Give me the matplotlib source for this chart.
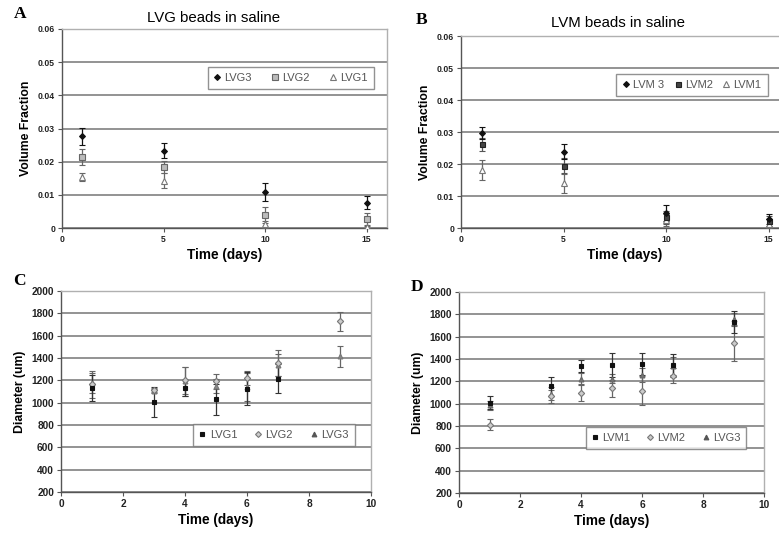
import numpy as np
import matplotlib.pyplot as plt
from matplotlib.lines import Line2D

plt.rcParams['font.family'] = ['Liberation Sans', 'DejaVu Sans']

W, H = 779, 535

# Panel A - LVG beads in saline (volume fraction)
days_ab = [1, 5, 10, 15]
lvg3_vf = [0.0277, 0.0233, 0.0109, 0.0076]
lvg3_vf_err = [0.0026, 0.0022, 0.0027, 0.0020]
lvg2_vf = [0.0214, 0.0184, 0.0039, 0.0027]
lvg2_vf_err = [0.0023, 0.0018, 0.0023, 0.0019]
lvg1_vf = [0.0154, 0.0143, 0.0011, 0.0002]
lvg1_vf_err = [0.0013, 0.0022, 0.0010, 0.0003]

# Panel B - LVM beads in saline (volume fraction)
lvm3_vf = [0.0298, 0.0239, 0.0047, 0.0028]
lvm3_vf_err = [0.0019, 0.0022, 0.0024, 0.0017]
lvm2_vf = [0.0261, 0.0195, 0.0033, 0.0021]
lvm2_vf_err = [0.0020, 0.0023, 0.0020, 0.0015]
lvm1_vf = [0.0182, 0.0140, 0.0025, 0.0014]
lvm1_vf_err = [0.0032, 0.0030, 0.0020, 0.0013]

# Panel C - LVG diameter
days_cd = [1, 3, 4, 5, 6, 7, 9]
lvg1_d = [1130, 1003, 1132, 1030, 1125, 1215, np.nan]
lvg1_d_err = [115, 135, 70, 140, 150, 130, np.nan]
lvg2_d = [1165, 1117, 1200, 1190, 1220, 1358, 1728]
lvg2_d_err = [120, 18, 120, 65, 60, 115, 85]
lvg3_d = [1175, 1105, 1190, 1150, 1140, 1340, 1415]
lvg3_d_err = [90, 20, 130, 60, 125, 100, 95]

# Panel D - LVM diameter
lvm1_d = [1010, 1155, 1335, 1345, 1355, 1342, 1730]
lvm1_d_err = [62, 82, 55, 105, 98, 100, 100]
lvm2_d = [810, 1065, 1095, 1138, 1115, 1250, 1545]
lvm2_d_err = [50, 55, 75, 75, 130, 68, 160]
lvg3_d_m = [985, 1090, 1222, 1222, 1255, 1335, 1755]
lvg3_d_m_err = [40, 60, 50, 40, 60, 80, 60]

fig = plt.figure(figsize=(W / 100, H / 100), dpi=100)


def add_axes(left, top, right, bottom):
    return fig.add_axes([left / W, 1 - bottom / H, (right - left) / W, (bottom - top) / H])


def style(ax, xlim, ylim, yticks, xticks, ylabel, yfmt, tsize):
    ax.set_xlim(*xlim)
    ax.set_ylim(*ylim)
    ax.set_yticks(yticks)
    ax.set_xticks(xticks)
    ax.set_yticklabels([yfmt(v) for v in yticks], fontsize=tsize, fontweight='bold', color='#222222')
    ax.set_xticklabels([str(v) for v in xticks], fontsize=tsize, fontweight='bold', color='#222222')
    ax.yaxis.grid(True, color='#8a8a8a', linewidth=1.3)
    ax.set_axisbelow(True)
    for s in ['top', 'right']:
        ax.spines[s].set_color('#b0b0b0')
        ax.spines[s].set_linewidth(1.0)
    for s in ['left', 'bottom']:
        ax.spines[s].set_color('#555555')
        ax.spines[s].set_linewidth(1.0)
    ax.tick_params(axis='both', direction='out', length=3, width=0.8, color='#555555', pad=2)
    ax.set_ylabel(ylabel, fontsize=8.8, fontweight='bold', labelpad=4)
    ax.set_xlabel('Time (days)', fontsize=9.8, fontweight='bold', labelpad=3)


def series(ax, x, y, e, color, ecolor, marker, mfc, ms):
    ax.errorbar(x, y, yerr=e, fmt=marker, color=color, ecolor=ecolor, mfc=mfc, mec=color,
                ms=ms, mew=0.8, elinewidth=0.9, capsize=2.2, capthick=0.9, zorder=3)


def legend(ax, handles, labels, cx, cy, colsp):
    leg = ax.legend(handles, labels, loc='center', bbox_to_anchor=(cx / W, 1 - cy / H),
                    bbox_transform=fig.transFigure, ncol=3, fontsize=8, frameon=True,
                    fancybox=False, edgecolor='#777777', handlelength=0.6, handletextpad=0.35,
                    columnspacing=colsp, borderpad=0.55, labelcolor='#555555')
    leg.get_frame().set_linewidth(1.0)


def h(marker, color, mfc, ms):
    return Line2D([], [], linestyle='none', marker=marker, color=color, mfc=mfc, mec=color, ms=ms, mew=0.8)


vf_fmt = lambda v: '0' if v == 0 else f'{v:.2f}'

# A
axA = add_axes(62, 29, 387, 228)
series(axA, days_ab, lvg1_vf, lvg1_vf_err, '#777777', '#666666', '^', 'white', 4)
series(axA, days_ab, lvg2_vf, lvg2_vf_err, '#666666', '#666666', 's', '#bbbbbb', 3.8)
series(axA, days_ab, lvg3_vf, lvg3_vf_err, '#111111', '#111111', 'D', '#111111', 3)
style(axA, (0, 16), (0, 0.06), [0, 0.01, 0.02, 0.03, 0.04, 0.05, 0.06], [0, 5, 10, 15],
      'Volume Fraction', vf_fmt, 6.2)
legend(axA, [h('D', '#111111', '#111111', 3), h('s', '#666666', '#bbbbbb', 3.8), h('^', '#777777', 'white', 4)],
       ['LVG3', 'LVG2', 'LVG1'], 291, 78, 1.8)
fig.text(214 / W, 1 - 18 / H, 'LVG beads in saline', ha='center', va='center', fontsize=10.8)

# B
axB = add_axes(461, 36, 789, 228)
series(axB, days_ab, lvm1_vf, lvm1_vf_err, '#777777', '#666666', '^', 'white', 4.2)
series(axB, days_ab, lvm2_vf, lvm2_vf_err, '#222222', '#555555', 's', '#444444', 3.6)
series(axB, days_ab, lvm3_vf, lvm3_vf_err, '#111111', '#111111', 'D', '#111111', 3)
style(axB, (0, 16), (0, 0.06), [0, 0.01, 0.02, 0.03, 0.04, 0.05, 0.06], [0, 5, 10, 15],
      'Volume Fraction', vf_fmt, 6.2)
legend(axB, [h('D', '#111111', '#111111', 3), h('s', '#222222', '#444444', 3.6), h('^', '#777777', 'white', 4.2)],
       ['LVM 3', 'LVM2', 'LVM1'], 692, 85, 0.9)
fig.text(618 / W, 1 - 23 / H, 'LVM beads in saline', ha='center', va='center', fontsize=10.8)

# C
axC = add_axes(61, 291, 371, 492)
series(axC, days_cd, lvg3_d, lvg3_d_err, '#777777', '#666666', '^', '#888888', 3.5)
series(axC, days_cd, lvg2_d, lvg2_d_err, '#777777', '#666666', 'D', '#cccccc', 3.2)
series(axC, days_cd, lvg1_d, lvg1_d_err, '#111111', '#333333', 's', '#111111', 3.5)
style(axC, (0, 10), (200, 2000), list(range(200, 2001, 200)), [0, 2, 4, 6, 8, 10],
      'Diameter (um)', lambda v: str(v), 7.3)
legend(axC, [h('s', '#111111', '#111111', 3.2), h('D', '#777777', '#cccccc', 3), h('^', '#555555', '#555555', 3.4)],
       ['LVG1', 'LVG2', 'LVG3'], 274, 435, 1.6)

# D
axD = add_axes(459, 292, 764, 493)
series(axD, days_cd, lvg3_d_m, lvg3_d_m_err, '#666666', '#666666', '^', '#777777', 3.5)
series(axD, days_cd, lvm2_d, lvm2_d_err, '#777777', '#666666', 'D', '#cccccc', 3.2)
series(axD, days_cd, lvm1_d, lvm1_d_err, '#111111', '#333333', 's', '#111111', 3.5)
style(axD, (0, 10), (200, 2000), list(range(200, 2001, 200)), [0, 2, 4, 6, 8, 10],
      'Diameter (um)', lambda v: str(v), 7.3)
legend(axD, [h('s', '#111111', '#111111', 3.2), h('D', '#777777', '#cccccc', 3), h('^', '#555555', '#555555', 3.4)],
       ['LVM1', 'LVM2', 'LVG3'], 666, 438, 1.5)

# panel letters
for lbl, px, py in [('A', 20, 14), ('B', 422, 20), ('C', 19, 281), ('D', 417, 287)]:
    fig.text(px / W, 1 - py / H, lbl, ha='center', va='center', fontsize=12.5,
             fontweight='bold', family='Liberation Serif')

fig.savefig('out.png', dpi=100)
